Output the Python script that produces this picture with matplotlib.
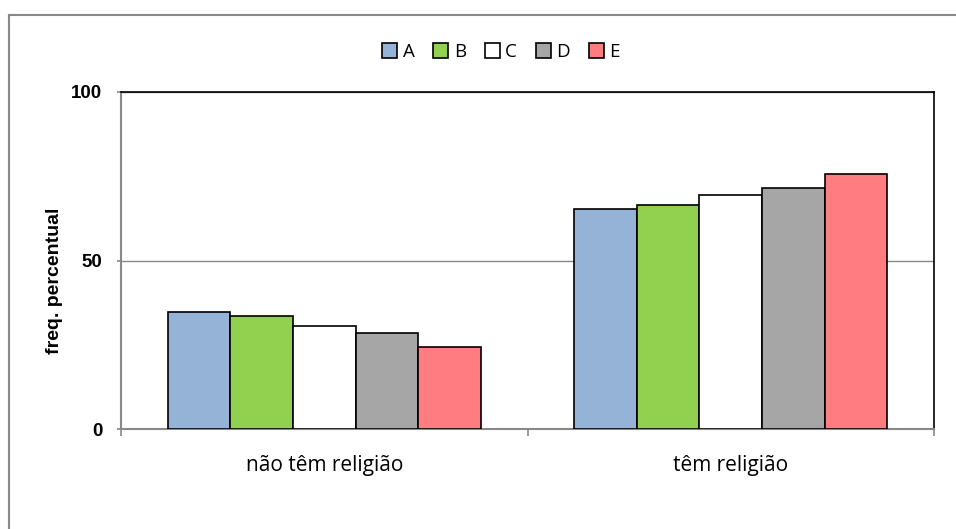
import matplotlib.pyplot as plt
import numpy as np
from matplotlib.lines import Line2D

categories = ['não têm religião', 'têm religião']
series = ['A', 'B', 'C', 'D', 'E']
values = {
    'A': [34.6, 65.4],
    'B': [33.6, 66.4],
    'C': [30.6, 69.4],
    'D': [28.4, 71.6],
    'E': [24.3, 75.7],
}
colors = ['#95b3d7', '#92d050', '#ffffff', '#a6a6a6', '#ff7c80']
yticks = [0, 50, 100]

W, H = 956, 529
fig = plt.figure(figsize=(W / 100, H / 100), dpi=100)
ax = fig.add_axes([121 / W, 1 - 429 / H, (934 - 121) / W, (429 - 92) / H])

# chart area border (gray, open to right/bottom)
fig.add_artist(Line2D([9 / W, 1], [1 - 15 / H, 1 - 15 / H], color='#888888', lw=1.5))
fig.add_artist(Line2D([9 / W, 9 / W], [0, 1 - 15 / H], color='#888888', lw=1.5))

x = np.arange(len(categories))
bw = 0.77 / len(series)
for i, (s, c) in enumerate(zip(series, colors)):
    pos = x - 0.77 / 2 + bw * (i + 0.5)
    ax.bar(pos, values[s], width=bw, color=c, edgecolor='black', linewidth=1.2,
           label=s, zorder=3)

ax.set_xlim(-0.5, 1.5)
ax.set_ylim(0, 100)
ax.set_yticks(yticks)
ax.set_yticklabels([str(t) for t in yticks], fontsize=13.5, fontweight='bold',
                   family='Liberation Sans')
ax.yaxis.grid(True, color='#888888', lw=1, zorder=0)

ax.set_xticks([-0.5, 0.5, 1.5], minor=False)
ax.set_xticklabels([])
ax.set_xticks(x, minor=True)
ax.set_xticklabels(categories, minor=True, fontsize=15, family='Open Sans')
ax.tick_params(axis='x', which='minor', length=0, pad=19)
ax.tick_params(axis='x', which='major', length=5, color='#888888', width=1.2)
ax.tick_params(axis='y', length=3, color='#888888', width=1.2, pad=10.5)

ax.spines['left'].set_color('#888888')
ax.spines['bottom'].set_color('#888888')
ax.spines['left'].set_linewidth(1.5)
ax.spines['bottom'].set_linewidth(1.5)
ax.spines['top'].set_color('black')
ax.spines['right'].set_color('black')
ax.spines['top'].set_linewidth(1.2)
ax.spines['right'].set_linewidth(1.2)

ax.set_ylabel('freq. percentual', fontsize=14, fontweight='bold',
              family='Liberation Sans')
ax.yaxis.set_label_coords((63 - 121) / 813, (429 - 281) / 337)

fig.legend(loc='center', bbox_to_anchor=(501 / W, 1 - 52 / H), ncol=5, frameon=False,
           prop={'family': 'Open Sans', 'size': 13.5},
           handlelength=0.8, handleheight=0.8, handletextpad=0.3,
           columnspacing=1.0)

fig.savefig('out.png', dpi=100, facecolor='white')
